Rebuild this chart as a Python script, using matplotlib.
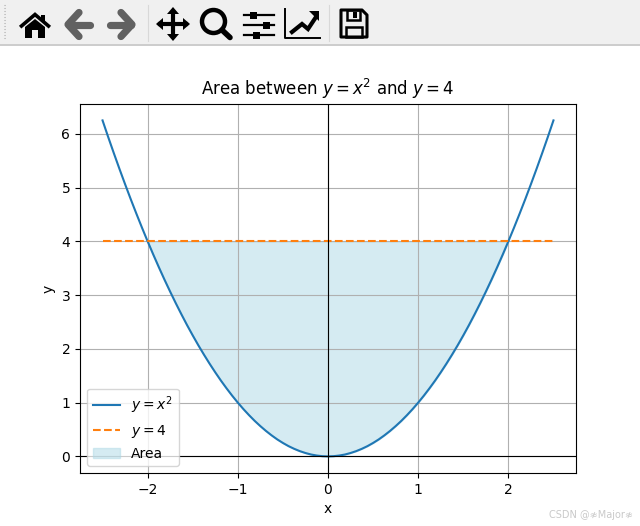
import numpy as np
import matplotlib
matplotlib.use('Agg')
import matplotlib.pyplot as plt
from matplotlib.patches import Polygon, Rectangle, Circle

# values, the curve is the same on both sides of x = 0
x_half = [0.0, 0.0625, 0.125, 0.1875, 0.25, 0.3125, 0.375, 0.4375, 0.5, 0.5625,
          0.625, 0.6875, 0.75, 0.8125, 0.875, 0.9375, 1.0, 1.0625, 1.125, 1.1875,
          1.25, 1.3125, 1.375, 1.4375, 1.5, 1.5625, 1.625, 1.6875, 1.75, 1.8125,
          1.875, 1.9375, 2.0, 2.0625, 2.125, 2.1875, 2.25, 2.3125, 2.375, 2.4375, 2.5]
y_half = [0.0, 0.004, 0.016, 0.035, 0.063, 0.098, 0.141, 0.191, 0.25, 0.316,
          0.391, 0.473, 0.563, 0.66, 0.766, 0.879, 1.0, 1.129, 1.266, 1.41,
          1.563, 1.723, 1.891, 2.066, 2.25, 2.441, 2.641, 2.848, 3.063, 3.285,
          3.516, 3.754, 4.0, 4.254, 4.516, 4.785, 5.063, 5.348, 5.641, 5.941, 6.25]
line_level = 4.0
x_ticks = [-2, -1, 0, 1, 2]
y_ticks = [0, 1, 2, 3, 4, 5, 6]

x = np.array([-v for v in x_half[:0:-1]] + x_half)
y1 = np.array(y_half[:0:-1] + y_half)
y2 = np.full(len(x), line_level)

fig = plt.figure(figsize=(6.4, 5.26), dpi=100)
W, H = 640, 526
ax = fig.add_axes([80 / W, 1 - 473.2 / H, 496 / W, 369.6 / H])

ax.plot(x, y1, label='$y = x^2$')
ax.plot(x, y2, '--', label='$y = 4$')
ax.fill_between(x, y1, y2, where=(y1 <= y2), color='lightblue', alpha=0.5, label='Area')
ax.axhline(0, color='black', linewidth=0.8)
ax.axvline(0, color='black', linewidth=0.8)
ax.set_xlim(-2.75, 2.75)
ax.set_ylim(-0.3125, 6.5625)
ax.set_xticks(x_ticks)
ax.set_yticks(y_ticks)
ax.set_xlabel('x')
ax.set_ylabel('y')
ax.set_title('Area between $y = x^2$ and $y = 4$')
ax.grid(True)
ax.legend(loc='lower left')

# toolbar on top, drawn in pixel coordinates
tb = fig.add_axes([0, 0, 1, 1], zorder=5)
tb.set_xlim(0, W)
tb.set_ylim(H, 0)
tb.axis('off')
tb.patch.set_alpha(0)
tb.add_patch(Rectangle((0, 0), W, 44, color='#f0f0f0', lw=0))
tb.plot([0, W], [44.5, 44.5], color='#c4c4c4', lw=1.2)
tb.plot([147.5, 147.5], [5, 41], color='#d8d8d8', lw=0.8)
tb.plot([328.5, 328.5], [5, 41], color='#d8d8d8', lw=0.8)
for gy in range(5, 41, 3):
    tb.plot([4, 6], [gy, gy], color='#a8a8a8', lw=0.8, ls=':')

# home
tb.plot([21.5, 35, 48.5], [26, 14.5, 26], color='black', lw=2.6, solid_joinstyle='miter')
tb.add_patch(Polygon([(25, 27), (35, 19), (45, 27), (45, 38), (38, 38), (38, 30), (32, 30), (32, 38), (25, 38)],
                     color='black', lw=0))
tb.add_patch(Rectangle((41, 15), 3.5, 7, color='black', lw=0))

# back / forward
grey = '#616161'
tb.plot([90, 69], [24.5, 24.5], color=grey, lw=5.2, solid_capstyle='round')
tb.plot([79, 68, 79], [12.5, 24.5, 36.5], color=grey, lw=5.2, solid_capstyle='round', solid_joinstyle='round')
tb.plot([110, 131], [24.5, 24.5], color=grey, lw=5.2, solid_capstyle='round')
tb.plot([121, 132, 121], [12.5, 24.5, 36.5], color=grey, lw=5.2, solid_capstyle='round', solid_joinstyle='round')

# move
tb.plot([173, 173], [12, 36], color='black', lw=3)
tb.plot([160, 186], [24, 24], color='black', lw=3)
for pts in ([(173, 7), (167, 14), (179, 14)], [(173, 41), (167, 34), (179, 34)],
            [(156, 24), (163, 18), (163, 30)], [(190, 24), (183, 18), (183, 30)]):
    tb.add_patch(Polygon(pts, color='black', lw=0))

# zoom
tb.add_patch(Circle((213.5, 21.5), 11.5, fill=False, ec='black', lw=3.2))
tb.plot([222, 230], [30, 37.5], color='black', lw=4, solid_capstyle='round')

# sliders
for sy, sx in zip([15, 25, 35], [253, 266, 256]):
    tb.plot([244, 274], [sy, sy], color='black', lw=1.6)
    tb.add_patch(Rectangle((sx - 3.5, sy - 3.5), 7, 7, color='black', lw=0))

# chart
tb.plot([285, 285, 320], [9, 37.5, 37.5], color='black', lw=1.4)
tb.plot([292, 302, 308, 316], [32, 24, 29, 17], color='black', lw=3, solid_joinstyle='miter')
tb.add_patch(Polygon([(309, 11), (319, 11), (319, 21)], color='black', lw=0))

# save
tb.add_patch(Polygon([(341, 10), (362, 10), (367, 15), (367, 37), (341, 37)], fill=False, ec='black', lw=2.2,
                     joinstyle='round'))
tb.add_patch(Rectangle((347, 10), 13, 10, fill=False, ec='black', lw=1.8))
tb.add_patch(Rectangle((353, 12), 4, 6, color='black', lw=0))
tb.add_patch(Rectangle((346, 27), 16, 10, fill=False, ec='black', lw=1.8))

fig.text(549 / W, 1 - 515 / H, 'CSDN @≉Major≉', fontsize=7, color='#c9c9c9', ha='left', va='center')

plt.savefig('out.png', dpi=100)
